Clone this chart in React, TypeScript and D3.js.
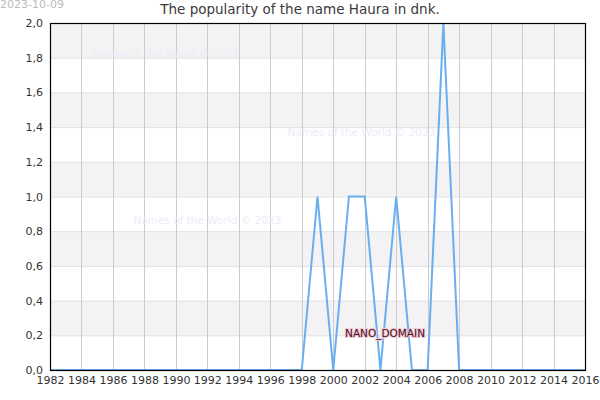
import { useEffect, useRef } from "react";
import * as d3 from "d3";

const years = d3.range(1982, 2017);
const values = [
  0, 0, 0, 0, 0, 0, 0, 0, 0, 0, 0, 0, 0, 0, 0, 0, 0, // 1982-1998
  1, 0, 1, 1, 0, 1, 0, 0, 2, 0, // 1999-2008
  0, 0, 0, 0, 0, 0, 0, 0, // 2009-2016
];
const yTicks = [0, 0.2, 0.4, 0.6, 0.8, 1.0, 1.2, 1.4, 1.6, 1.8, 2.0];
const xTicks = d3.range(1982, 2017, 2);
const watermarks = [
  { x: 1984.6, y: 1.8 },
  { x: 1997.1, y: 1.35 },
  { x: 1987.3, y: 0.84 },
];

const App = () => {
  const svgRef = useRef<SVGSVGElement>(null);

  useEffect(() => {
    const width = 600;
    const height = 400;
    const margin = { top: 23, right: 15, bottom: 30, left: 50 };
    const w = width - margin.left - margin.right;
    const h = height - margin.top - margin.bottom;

    const svg = d3.select(svgRef.current);
    svg.selectAll("*").remove();

    const x = d3.scaleLinear().domain([1982, 2016]).range([0, w]);
    const y = d3.scaleLinear().domain([0, 2]).range([h, 0]);

    const g = svg
      .append("g")
      .attr("transform", `translate(${margin.left},${margin.top})`);

    // alternating bands
    g.append("g")
      .selectAll("rect")
      .data(yTicks.slice(0, -1))
      .join("rect")
      .attr("x", 0)
      .attr("width", w)
      .attr("y", (d) => y(d + 0.2))
      .attr("height", (d) => y(d) - y(d + 0.2))
      .attr("fill", (d, i) => (i % 2 === 1 ? "#f3f3f3" : "#ffffff"));

    // horizontal grid
    g.append("g")
      .selectAll("line")
      .data(yTicks)
      .join("line")
      .attr("x1", 0)
      .attr("x2", w)
      .attr("y1", (d) => y(d) + 0.5)
      .attr("y2", (d) => y(d) + 0.5)
      .attr("stroke", "#e0e0e0");

    // vertical grid
    g.append("g")
      .selectAll("line")
      .data(xTicks)
      .join("line")
      .attr("x1", (d) => Math.round(x(d)) + 0.5)
      .attr("x2", (d) => Math.round(x(d)) + 0.5)
      .attr("y1", 0)
      .attr("y2", h)
      .attr("stroke", "#cccccc");

    // watermarks
    g.append("g")
      .selectAll("text")
      .data(watermarks)
      .join("text")
      .attr("x", (d) => x(d.x))
      .attr("y", (d) => y(d.y))
      .attr("fill", "#ececf8")
      .style("font-family", "DejaVu Sans, sans-serif")
      .style("font-size", "10.5px")
      .text("Names of the World © 2023");

    // line
    const line = d3
      .line<number>()
      .x((d, i) => x(years[i]))
      .y((d) => y(d));

    g.append("path")
      .datum(values)
      .attr("d", line)
      .attr("fill", "none")
      .attr("stroke", "#6aaef2")
      .attr("stroke-width", 2);

    // frame
    g.append("rect")
      .attr("x", 0.5)
      .attr("y", 0.5)
      .attr("width", w)
      .attr("height", h)
      .attr("fill", "none")
      .attr("stroke", "#000")
      .attr("stroke-width", 1.2);

    const fmt = (d: number) => d.toFixed(1).replace(".", ",");

    const yAxis = d3
      .axisLeft(y)
      .tickValues(yTicks)
      .tickFormat((d) => fmt(d as number))
      .tickSize(0)
      .tickPadding(7);
    const yg = g.append("g").call(yAxis);
    yg.select(".domain").remove();
    yg.selectAll("text")
      .attr("fill", "#333")
      .style("font-family", "DejaVu Sans, sans-serif")
      .style("font-size", "11px");

    const xAxis = d3
      .axisBottom(x)
      .tickValues(xTicks)
      .tickFormat((d) => String(d))
      .tickSize(0)
      .tickPadding(6);
    const xg = g.append("g").attr("transform", `translate(0,${h})`).call(xAxis);
    xg.select(".domain").remove();
    xg.selectAll("text")
      .attr("fill", "#333")
      .style("font-family", "DejaVu Sans, sans-serif")
      .style("font-size", "11px");

    // nano domain label
    g.append("text")
      .attr("x", x(2000.75))
      .attr("y", y(0.2) + 2)
      .attr("fill", "#4a1024")
      .attr("stroke", "#f2c6d2")
      .attr("stroke-width", 2)
      .attr("paint-order", "stroke")
      .style("font-family", "DejaVu Sans, sans-serif")
      .style("font-size", "10.5px")
      .text("NANO_DOMAIN");

    // title
    svg
      .append("text")
      .attr("x", 300)
      .attr("y", 14)
      .attr("text-anchor", "middle")
      .attr("fill", "#3a3a3a")
      .style("font-family", "DejaVu Sans, sans-serif")
      .style("font-size", "13.5px")
      .text("The popularity of the name Haura in dnk.");

    svg
      .append("text")
      .attr("x", 0)
      .attr("y", 8)
      .attr("fill", "#bbbbbb")
      .style("font-family", "DejaVu Sans, sans-serif")
      .style("font-size", "11px")
      .text("2023-10-09");
  }, []);

  return (
    <svg
      ref={svgRef}
      width={600}
      height={400}
      style={{ position: "absolute", left: 0, top: 0, background: "#fff" }}
    />
  );
};

export default App;
